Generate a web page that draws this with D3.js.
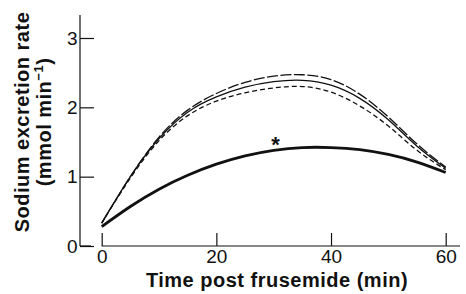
<!DOCTYPE html>
<html>
<head>
<meta charset="utf-8">
<script src="https://cdn.jsdelivr.net/npm/d3@7"></script>
<style>
  body { margin: 0; background: #fff; }
  text { font-family: "Liberation Sans", Arial, sans-serif; fill: #111; }
</style>
</head>
<body>
<div id="chart"></div>
<script>
// time points (min)
var times = [0, 5, 10, 15, 20, 25, 30, 35, 40, 45, 50, 55, 60];

// sodium excretion rate curves (mmol/min)
var longDash = [0.33, 1.00, 1.57, 1.96, 2.20, 2.36, 2.45, 2.47, 2.40, 2.19, 1.86, 1.47, 1.14];
var solidThin = [0.33, 1.00, 1.55, 1.93, 2.15, 2.29, 2.37, 2.39, 2.32, 2.13, 1.82, 1.44, 1.12];
var shortDash = [0.33, 0.98, 1.52, 1.88, 2.09, 2.21, 2.28, 2.30, 2.22, 2.02, 1.73, 1.38, 1.10];
var thick = [0.28, 0.57, 0.82, 1.02, 1.18, 1.30, 1.38, 1.42, 1.42, 1.39, 1.32, 1.21, 1.06];

var xTicks = [0, 20, 40, 60];
var yTicks = [0, 1, 2, 3];
var star = {t: 30.3, v: 1.54};

var svg = d3.select("#chart").append("svg")
  .attr("width", 466)
  .attr("height", 294);

var x = d3.scaleLinear().domain([0, 60]).range([101.7, 445.7]);
var y = d3.scaleLinear().domain([0, 3]).range([246, 38]);

// y axis
var yAxis = d3.axisLeft(y)
  .tickValues(yTicks)
  .tickFormat(d3.format("d"))
  .tickSizeInner(-14)
  .tickSizeOuter(0)
  .tickPadding(2.5);

var gy = svg.append("g")
  .attr("transform", "translate(80,0)")
  .call(yAxis);
gy.select(".domain").remove();
gy.selectAll("line").attr("stroke", "#111").attr("stroke-width", 1.2);
gy.selectAll("text").style("font-size", "19px").attr("fill", "#111");

svg.append("line")
  .attr("x1", 80).attr("x2", 80)
  .attr("y1", y(0)).attr("y2", y(3.33))
  .attr("stroke", "#111").attr("stroke-width", 1.2);

// little foot of the y axis
svg.append("line")
  .attr("x1", 80).attr("x2", 91)
  .attr("y1", y(0)).attr("y2", y(0))
  .attr("stroke", "#111").attr("stroke-width", 1.2);

// x axis
var xAxis = d3.axisBottom(x)
  .tickValues(xTicks)
  .tickSizeInner(-13)
  .tickSizeOuter(0)
  .tickPadding(4);

var gx = svg.append("g")
  .attr("transform", "translate(0," + y(0) + ")")
  .call(xAxis);
gx.select(".domain").remove();
gx.selectAll("line").attr("stroke", "#111").attr("stroke-width", 1.2);
gx.selectAll("text").style("font-size", "19px").attr("fill", "#111");

svg.append("line")
  .attr("x1", x(0)).attr("x2", x(62.5))
  .attr("y1", y(0)).attr("y2", y(0))
  .attr("stroke", "#111").attr("stroke-width", 1.2);

// curves
var line = d3.line()
  .x(function(d, i) { return x(times[i]); })
  .y(function(d) { return y(d); })
  .curve(d3.curveNatural);

var series = [
  {values: longDash, dash: "11,2.5", width: 1.3},
  {values: solidThin, dash: null, width: 1.3},
  {values: shortDash, dash: "5,3", width: 1.3},
  {values: thick, dash: null, width: 2.8}
];

svg.selectAll("path.curve")
  .data(series)
  .enter()
  .append("path")
    .attr("class", "curve")
    .attr("d", function(d) { return line(d.values); })
    .attr("fill", "none")
    .attr("stroke", "#111")
    .attr("stroke-width", function(d) { return d.width; })
    .attr("stroke-dasharray", function(d) { return d.dash; });

// significance marker
svg.append("text")
  .attr("x", x(star.t))
  .attr("y", y(star.v))
  .attr("dy", "0.58em")
  .attr("text-anchor", "middle")
  .style("font-size", "22px")
  .style("font-weight", "bold")
  .text("*");

// axis titles
svg.append("text")
  .attr("x", 277)
  .attr("y", 287)
  .attr("text-anchor", "middle")
  .style("font-size", "20px")
  .style("font-weight", "bold")
  .style("letter-spacing", "0.5px")
  .text("Time post frusemide (min)");

var yt = svg.append("text")
  .attr("transform", "translate(29,122) rotate(-90)")
  .attr("text-anchor", "middle")
  .style("font-size", "20px")
  .style("font-weight", "bold")
  .style("letter-spacing", "0.5px");
yt.append("tspan").attr("x", 0).attr("y", 0).text("Sodium excretion rate");
var l2 = yt.append("tspan").attr("x", 0).attr("y", 22);
l2.append("tspan").text("(mmol min");
l2.append("tspan").attr("dy", -8).style("font-size", "13px").text("\u22121");
l2.append("tspan").attr("dy", 8).text(")");
</script>
</body>
</html>
